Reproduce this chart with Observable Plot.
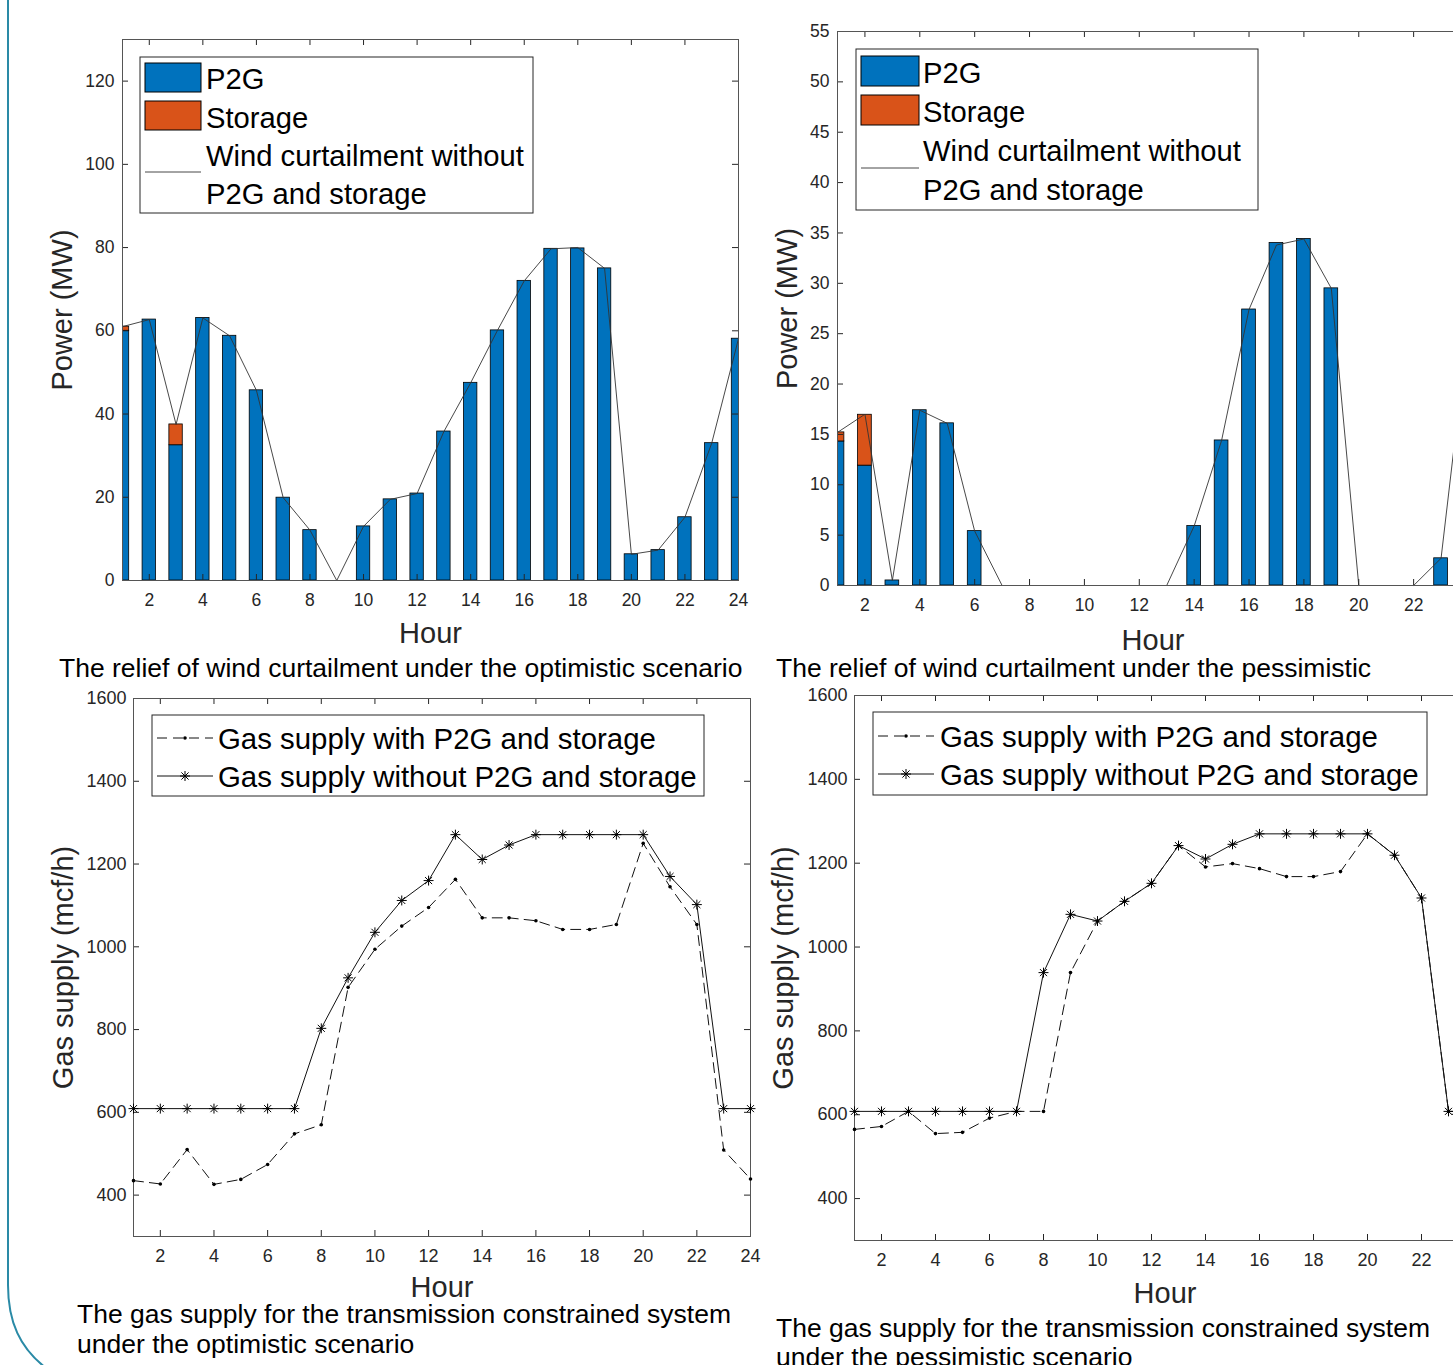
<!DOCTYPE html>
<html><head><meta charset="utf-8">
<script src="https://cdn.jsdelivr.net/npm/d3@7"></script>
<script src="https://cdn.jsdelivr.net/npm/@observablehq/plot@0.6"></script>
<style>
html,body{margin:0;padding:0;background:#fff;}
#wrap{position:relative;width:1453px;height:1365px;overflow:hidden;background:#fff;font-family:"Liberation Sans",Arial,sans-serif;}
</style></head><body><div id="wrap"></div>
<script>
// ---- data ----
const hours = [1,2,3,4,5,6,7,8,9,10,11,12,13,14,15,16,17,18,19,20,21,22,23,24];
const hourTicks = [2,4,6,8,10,12,14,16,18,20,22,24];
const hourLabelsLeft = [2,4,6,8,10,12,14,16,18,20,22,24];
const hourLabelsRight = [2,4,6,8,10,12,14,16,18,20,22];

const optP2G     = [60.0,62.7,32.5,63.1,58.8,45.7,19.9,12.1,0,13.0,19.5,20.9,35.8,47.5,60.1,72.0,79.7,79.8,75.0,6.3,7.3,15.2,33.0,58.1];
const optStorage = [1.0,0,5.0,0,0,0,0,0,0,0,0,0,0,0,0,0,0,0,0,0,0,0,0,0];
const optCurtail = [61.0,62.7,37.5,63.1,58.8,45.7,19.9,12.1,0,13.0,19.5,20.9,35.8,47.5,60.1,72.0,79.7,80.0,75.0,6.3,7.3,15.2,33.0,58.1];
const optPowerTicks = [0,20,40,60,80,100,120];

const pesP2G     = [14.3,11.9,0.5,17.4,16.1,5.4,0,0,0,0,0,0,0,5.9,14.4,27.4,34.0,34.4,29.5,0,0,0,2.7,26.0];
const pesStorage = [0.9,5.05,0,0,0,0,0,0,0,0,0,0,0,0,0,0,0,0,0,0,0,0,0,0];
const pesCurtail = [15.2,17.0,0.5,17.4,16.1,5.4,0,0,0,0,0,0,0,5.9,14.4,27.4,33.8,34.4,29.5,0,0,0,2.7,26.0];
const pesPowerTicks = [0,5,10,15,20,25,30,35,40,45,50,55];

const optGasWith    = [435,427,510,426,438,474,548,570,902,994,1050,1095,1163,1070,1070,1063,1042,1042,1054,1250,1145,1054,509,439];
const optGasWithout = [609,609,609,609,609,609,609,803,925,1035,1112,1160,1271,1211,1246,1271,1271,1271,1271,1271,1170,1102,609,609];
const pesGasWith    = [565,572,608,555,558,592,608,608,939,1062,1109,1152,1242,1191,1199,1187,1168,1168,1180,1270,1219,1117,608,560];
const pesGasWithout = [608,608,608,608,608,608,608,939,1078,1062,1109,1152,1242,1210,1245,1270,1270,1270,1270,1270,1219,1117,608,608];
const gasTicks = [400,600,800,1000,1200,1400,1600];

const captions = [
  "The relief of wind curtailment under the optimistic scenario",
  "The relief of wind curtailment under the pessimistic",
  "The gas supply for the transmission constrained system",
  "under the optimistic scenario",
  "under the pessimistic scenario"
];

// ---- style ----
const FONT = "'Liberation Sans', Arial, Helvetica, sans-serif";
const BLUE = "#0072BD", ORANGE = "#D95319", AX = "#262626", FRAME = "#555";
const wrap = document.getElementById("wrap");
const plain = d => String(d);

function inTicks(xd, yd, xt, yt, W, H, len = 6) {
  const lx = len / W * (xd[1] - xd[0]);
  const ly = len / H * (yd[1] - yd[0]);
  const s = {stroke: AX, strokeWidth: 1};
  return [
    Plot.ruleX(xt, {x: d => d, y1: yd[0], y2: yd[0] + ly, ...s}),
    Plot.ruleX(xt, {x: d => d, y1: yd[1] - ly, y2: yd[1], ...s}),
    Plot.ruleY(yt, {y: d => d, x1: xd[0], x2: xd[0] + lx, ...s}),
    Plot.ruleY(yt, {y: d => d, x1: xd[1] - lx, x2: xd[1], ...s})
  ];
}

function place(svg, left, top) {
  svg.style.position = "absolute";
  svg.style.left = left + "px";
  svg.style.top = top + "px";
  wrap.appendChild(svg);
}

function barPanel(cfg) {
  const rows = hours.map((h, i) => ({h, p2g: cfg.p2g[i], st: cfg.storage[i], c: cfg.curtail[i]}));
  const xd = [1, 24];
  const W = cfg.width - cfg.ml - cfg.mr, H = cfg.height - cfg.mt - cfg.mb;
  const svg = Plot.plot({
    width: cfg.width, height: cfg.height,
    marginLeft: cfg.ml, marginRight: cfg.mr, marginTop: cfg.mt, marginBottom: cfg.mb,
    style: `background:none;font-family:${FONT};`,
    x: {domain: xd}, y: {domain: cfg.yDomain},
    marks: [
      Plot.rect(rows.filter(d => d.p2g > 0), {x1: d => d.h - 0.25, x2: d => d.h + 0.25, y1: 0, y2: "p2g",
        fill: BLUE, stroke: "#000", strokeWidth: 0.8, clip: true}),
      Plot.rect(rows.filter(d => d.st > 0), {x1: d => d.h - 0.25, x2: d => d.h + 0.25, y1: "p2g", y2: d => d.p2g + d.st,
        fill: ORANGE, stroke: "#000", strokeWidth: 0.8, clip: true}),
      Plot.line(rows, {x: "h", y: "c", stroke: "#333", strokeWidth: 0.9}),
      ...inTicks(xd, cfg.yDomain, hourTicks, cfg.yTicks, W, H),
      Plot.axisX({ticks: cfg.xLabels, tickFormat: plain, tickSize: 0, tickPadding: 13, fontSize: 17.5, color: AX, label: null}),
      Plot.axisY({ticks: cfg.yTicks, tickFormat: plain, tickSize: 0, tickPadding: 8, fontSize: 17.5, color: AX, label: null}),
      Plot.frame({stroke: FRAME, strokeWidth: 1}),
      Plot.text(["Power (MW)"], {frameAnchor: "left", dx: cfg.ylabDx, rotate: -90, fontSize: 29, fill: AX, textAnchor: "middle", lineAnchor: "middle"}),
      Plot.text(["Hour"], {frameAnchor: "bottom", dy: cfg.xlabDy, fontSize: 29, fill: AX, textAnchor: "middle", lineAnchor: "middle"})
    ]
  });
  place(svg, cfg.left, cfg.top);
}

function gasPanel(cfg) {
  const rows = hours.map((h, i) => ({h, w: cfg.withP[i], wo: cfg.without[i]}));
  const xd = [1, 24], yd = [300, 1600];
  const W = cfg.width - cfg.ml - cfg.mr, H = cfg.height - cfg.mt - cfg.mb;
  const svg = Plot.plot({
    width: cfg.width, height: cfg.height,
    marginLeft: cfg.ml, marginRight: cfg.mr, marginTop: cfg.mt, marginBottom: cfg.mb,
    style: `background:none;font-family:${FONT};`,
    x: {domain: xd}, y: {domain: yd},
    marks: [
      ...inTicks(xd, yd, hourTicks, gasTicks, W, H),
      Plot.axisX({ticks: cfg.xLabels, tickFormat: plain, tickSize: 0, tickPadding: 13, fontSize: 18, color: AX, label: null}),
      Plot.axisY({ticks: gasTicks, tickFormat: plain, tickSize: 0, tickPadding: 7, fontSize: 18, color: AX, label: null}),
      Plot.frame({stroke: FRAME, strokeWidth: 1}),
      Plot.line(rows, {x: "h", y: "w", stroke: "#111", strokeWidth: 1, strokeDasharray: "10,6"}),
      Plot.dot(rows, {x: "h", y: "w", r: 1.8, fill: "#000", stroke: "none"}),
      Plot.line(rows, {x: "h", y: "wo", stroke: "#111", strokeWidth: 1}),
      Plot.dot(rows, {x: "h", y: "wo", symbol: "plus", r: 3.3, stroke: "#000", strokeWidth: 1}),
      Plot.dot(rows, {x: "h", y: "wo", symbol: "times", r: 3.3, stroke: "#000", strokeWidth: 1}),
      Plot.text(["Gas supply (mcf/h)"], {frameAnchor: "left", dx: cfg.ylabDx, rotate: -90, fontSize: 29, fill: AX, textAnchor: "middle", lineAnchor: "middle"}),
      Plot.text(["Hour"], {frameAnchor: "bottom", dy: cfg.xlabDy, fontSize: 29, fill: AX, textAnchor: "middle", lineAnchor: "middle"})
    ]
  });
  place(svg, cfg.left, cfg.top);
}

barPanel({p2g: optP2G, storage: optStorage, curtail: optCurtail, yDomain: [0, 130], yTicks: optPowerTicks, xLabels: hourLabelsLeft,
  left: 0, top: 0, width: 760, height: 660, ml: 122, mr: 22, mt: 39, mb: 80, ylabDx: -60, xlabDy: 53});
barPanel({p2g: pesP2G, storage: pesStorage, curtail: pesCurtail, yDomain: [0, 55], yTicks: pesPowerTicks, xLabels: hourLabelsRight,
  left: 740, top: 0, width: 750, height: 660, ml: 97, mr: 22, mt: 31, mb: 75, ylabDx: -50, xlabDy: 55});
gasPanel({withP: optGasWith, without: optGasWithout, xLabels: hourLabelsLeft,
  left: 0, top: 660, width: 772, height: 700, ml: 133, mr: 22, mt: 38, mb: 124, ylabDx: -70, xlabDy: 51});
gasPanel({withP: pesGasWith, without: pesGasWithout, xLabels: hourLabelsRight,
  left: 760, top: 660, width: 737, height: 700, ml: 94, mr: 22, mt: 35, mb: 120, ylabDx: -71, xlabDy: 53});

// ---- overlay: legends, captions, slide border ----
const ov = d3.select(wrap).append("svg")
  .attr("width", 1453).attr("height", 1365)
  .style("position", "absolute").style("left", 0).style("top", 0)
  .style("pointer-events", "none").style("font-family", FONT);

ov.append("path")
  .attr("d", "M8,0 V1285 C8,1322 20,1348 46,1368")
  .attr("fill", "none").attr("stroke", "#2A8AA6").attr("stroke-width", 2);

function barLegend(b) {
  const g = ov.append("g");
  g.append("rect").attr("x", b.x).attr("y", b.y).attr("width", b.w).attr("height", b.h)
    .attr("fill", "#fff").attr("stroke", AX).attr("stroke-width", 1);
  g.append("rect").attr("x", b.sx).attr("y", b.r1).attr("width", b.sw).attr("height", b.sh)
    .attr("fill", BLUE).attr("stroke", "#000").attr("stroke-width", 1);
  g.append("rect").attr("x", b.sx).attr("y", b.r2).attr("width", b.sw).attr("height", b.sh)
    .attr("fill", ORANGE).attr("stroke", "#000").attr("stroke-width", 1);
  g.append("line").attr("x1", b.sx).attr("x2", b.sx + b.sw).attr("y1", b.ly).attr("y2", b.ly)
    .attr("stroke", "#333").attr("stroke-width", 0.9);
  ["P2G", "Storage", "Wind curtailment without", "P2G and storage"].forEach((t, i) => {
    g.append("text").attr("x", b.tx).attr("y", b.ty[i]).attr("dy", "0.36em")
      .attr("font-size", 29.2).attr("fill", "#000").text(t);
  });
}
barLegend({x: 140, y: 57, w: 393, h: 156, sx: 145, sw: 56, sh: 29, r1: 63, r2: 101, ly: 172, tx: 206, ty: [78, 117, 155, 193]});
barLegend({x: 856, y: 49, w: 402, h: 161, sx: 861, sw: 58, sh: 30, r1: 56, r2: 95, ly: 168, tx: 923, ty: [72, 111, 150, 189]});

function star(g, cx, cy) {
  const a = 5, d = 3.6;
  g.append("path").attr("d", `M${cx - a},${cy}H${cx + a}M${cx},${cy - a}V${cy + a}M${cx - d},${cy - d}L${cx + d},${cy + d}M${cx - d},${cy + d}L${cx + d},${cy - d}`)
    .attr("stroke", "#000").attr("stroke-width", 1).attr("fill", "none");
}
function gasLegend(b) {
  const g = ov.append("g");
  g.append("rect").attr("x", b.x).attr("y", b.y).attr("width", b.w).attr("height", b.h)
    .attr("fill", "#fff").attr("stroke", AX).attr("stroke-width", 1);
  const mid = b.sx + 28;
  g.append("line").attr("x1", b.sx).attr("x2", b.sx + 56).attr("y1", b.ty[0]).attr("y2", b.ty[0])
    .attr("stroke", "#111").attr("stroke-width", 1).attr("stroke-dasharray", "10,6");
  g.append("circle").attr("cx", mid).attr("cy", b.ty[0]).attr("r", 1.8).attr("fill", "#000");
  g.append("line").attr("x1", b.sx).attr("x2", b.sx + 56).attr("y1", b.ty[1]).attr("y2", b.ty[1])
    .attr("stroke", "#111").attr("stroke-width", 1);
  star(g, mid, b.ty[1]);
  ["Gas supply with P2G and storage", "Gas supply without P2G and storage"].forEach((t, i) => {
    g.append("text").attr("x", b.tx).attr("y", b.ty[i]).attr("dy", "0.36em")
      .attr("font-size", 29.4).attr("fill", "#000").text(t);
  });
}
gasLegend({x: 152, y: 715, w: 552, h: 81, sx: 157, tx: 218, ty: [738, 776]});
gasLegend({x: 873, y: 712, w: 554, h: 83, sx: 878, tx: 940, ty: [736, 774]});

const capPos = [[59, 677], [776, 677], [77, 1323], [77, 1353], [776, 1366]];
capPos.forEach(([x, y], i) => {
  ov.append("text").attr("x", x).attr("y", y).attr("font-size", 26.5).attr("fill", "#000").text(captions[i]);
});
ov.append("text").attr("x", 776).attr("y", 1337).attr("font-size", 26.5).attr("fill", "#000").text(captions[2]);
</script></body></html>
